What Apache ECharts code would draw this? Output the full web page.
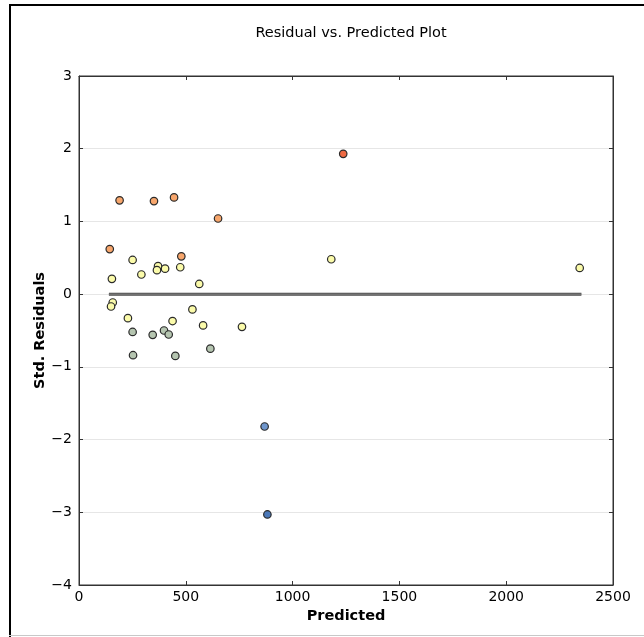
<!DOCTYPE html>
<html>
<head>
<meta charset="utf-8">
<script src="https://cdn.jsdelivr.net/npm/echarts@6/dist/echarts.min.js"></script>
<style>
    html, body { margin: 0; padding: 0; background: #fff; }
    #chart { width: 644px; height: 637px; }
</style>
</head>
<body>
<div id="chart"></div>
<script>
    // predicted values and standardized residuals
    var predicted = [190, 351, 445, 651, 144, 251, 479, 370, 365, 403, 474, 292, 154, 563,
                     158, 150, 531, 229, 438, 581, 763, 251, 345, 398, 420, 615, 253, 451,
                     1237, 1181, 2344, 869, 882];
    var residuals = [1.29, 1.28, 1.33, 1.04, 0.62, 0.47, 0.52, 0.385, 0.33, 0.35, 0.37, 0.27, 0.21, 0.14,
                     -0.115, -0.17, -0.21, -0.33, -0.37, -0.43, -0.45, -0.52, -0.56, -0.50, -0.555, -0.75, -0.84, -0.85,
                     1.93, 0.48, 0.36, -1.82, -3.03];
    var zeroLine = [[140, 0], [2352, 0]];
    var xTicks = [0, 500, 1000, 1500, 2000, 2500];
    var yTicks = [-4, -3, -2, -1, 0, 1, 2, 3];

    var chart = echarts.init(document.getElementById('chart'));
    var font = 'DejaVu Sans';
    var points = predicted.map(function (p, i) { return [p, residuals[i]]; });
    function plain(v) { return String(v).replace('-', '\u2212'); }

    var option = {
        backgroundColor: '#fff',
        animation: false,
        title: {
            text: 'Residual vs. Predicted Plot',
            left: 346, top: 21, textAlign: 'center',
            textStyle: { fontFamily: font, fontSize: 14.5, fontWeight: 'normal', color: '#000' }
        },
        graphic: [
            { type: 'rect', shape: { x: 9, y: 4, width: 2, height: 633 }, style: { fill: '#000' } },
            { type: 'rect', shape: { x: 9, y: 4, width: 635, height: 2 }, style: { fill: '#000' } },
            { type: 'rect', shape: { x: 9, y: 635, width: 635, height: 1 }, style: { fill: '#c8c8c8' } }
        ],
        grid: { left: 79, right: 31, top: 76, bottom: 52, show: true, borderColor: '#333', borderWidth: 1 },
        visualMap: {
            show: false, type: 'piecewise', dimension: 1, seriesIndex: 0,
            pieces: [
                { gte: 1.5, color: '#ee6a43' },
                { gte: 0.5, lt: 1.5, color: '#f7a66c' },
                { gt: -0.5, lt: 0.5, color: '#fbfbaa' },
                { gt: -1.5, lte: -0.5, color: '#b5c5b0' },
                { gt: -2.5, lte: -1.5, color: '#6f96cc' },
                { lte: -2.5, color: '#4b78b8' }
            ]
        },
        xAxis: [{
            type: 'value', min: xTicks[0], max: xTicks[xTicks.length - 1], interval: 500,
            name: 'Predicted', nameLocation: 'middle', nameGap: 24,
            nameTextStyle: { fontFamily: font, fontSize: 14.5, fontWeight: 'bold', color: '#000' },
            axisLine: { show: true, onZero: false, lineStyle: { color: '#333' } },
            axisTick: { inside: true, length: 4, lineStyle: { color: '#333' } },
            axisLabel: { fontFamily: font, fontSize: 14, color: '#000', margin: 5, formatter: plain },
            splitLine: { show: false }
        }, {
            type: 'value', position: 'top', min: 0, max: 2500, interval: 500,
            axisLine: { show: true, onZero: false, lineStyle: { color: '#333' } },
            axisTick: { inside: true, length: 4, lineStyle: { color: '#333' } },
            axisLabel: { show: false }, splitLine: { show: false }
        }],
        yAxis: [{
            type: 'value', min: yTicks[0], max: yTicks[yTicks.length - 1], interval: 1,
            name: 'Std. Residuals', nameLocation: 'middle', nameGap: 31, nameMoveOverlap: false,
            nameTextStyle: { fontFamily: font, fontSize: 14.5, fontWeight: 'bold', color: '#000' },
            axisLine: { show: true, onZero: false, lineStyle: { color: '#333' } },
            axisTick: { inside: true, length: 4, lineStyle: { color: '#333' } },
            axisLabel: { fontFamily: font, fontSize: 14, color: '#000', margin: 7, formatter: plain },
            splitLine: { show: true, lineStyle: { color: '#e6e6e6', width: 1 } }
        }, {
            type: 'value', position: 'right', min: -4, max: 3, interval: 1,
            axisLine: { show: true, onZero: false, lineStyle: { color: '#333' } },
            axisTick: { inside: true, length: 4, lineStyle: { color: '#333' } },
            axisLabel: { show: false }, splitLine: { show: false }
        }],
        series: [{
            type: 'scatter',
            data: points,
            symbolSize: 7.5,
            z: 5,
            itemStyle: { borderColor: '#2a2a2a', borderWidth: 1.2, opacity: 1 }
        }, {
            type: 'line',
            data: zeroLine,
            symbol: 'none',
            z: 3,
            lineStyle: { color: '#4a4a4a', width: 3 }
        }, {
            type: 'line',
            data: zeroLine,
            symbol: 'none',
            z: 4,
            lineStyle: { color: '#8a8a8a', width: 1 }
        }]
    };

    option && chart.setOption(option);
</script>
</body>
</html>
